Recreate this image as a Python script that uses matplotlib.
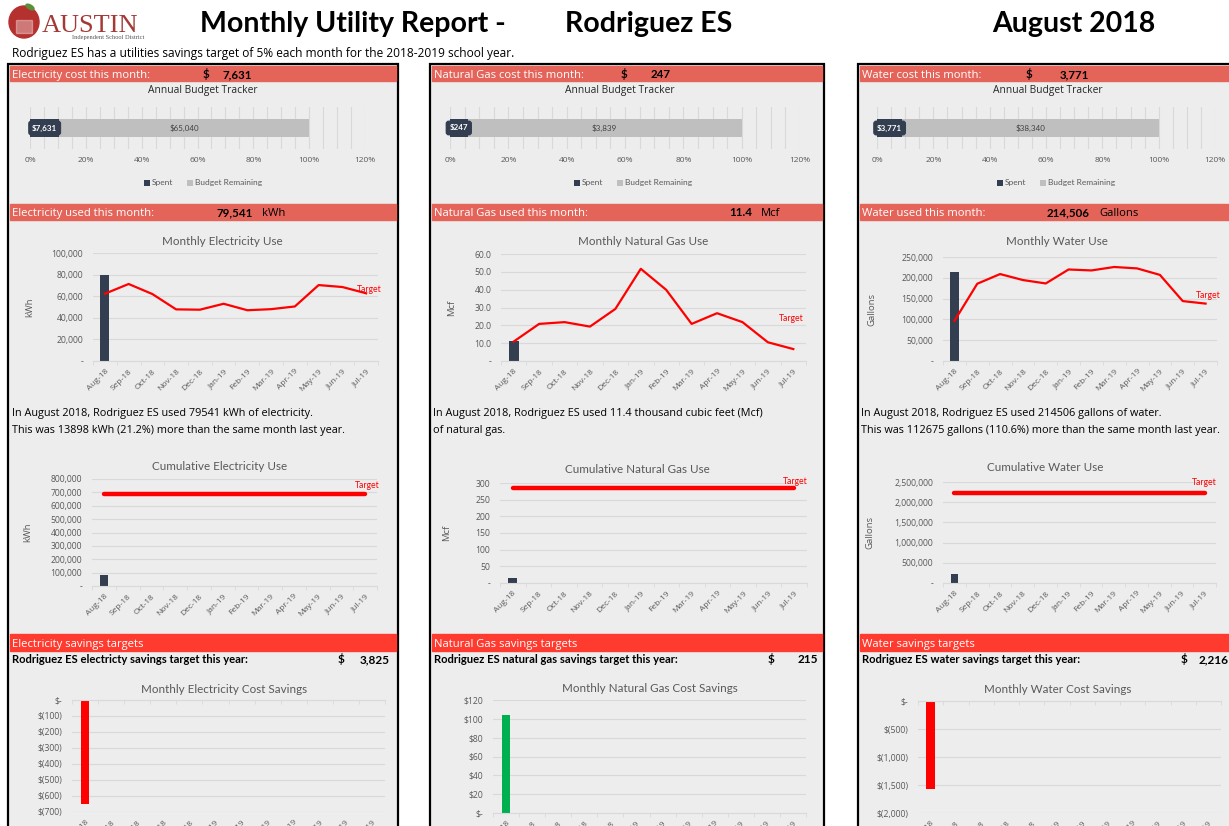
import numpy as np
import matplotlib.pyplot as plt
from matplotlib.patches import Rectangle, Ellipse
from matplotlib.ticker import FuncFormatter

plt.rcParams['font.family'] = ['Lato', 'DejaVu Sans']
BODY = ['Open Sans', 'DejaVu Sans']

W, H = 1229, 826

months = ['Aug-18', 'Sep-18', 'Oct-18', 'Nov-18', 'Dec-18', 'Jan-19',
          'Feb-19', 'Mar-19', 'Apr-19', 'May-19', 'Jun-19', 'Jul-19']

# budget tracker
elec_spent, elec_remaining = 7631, 65040
gas_spent, gas_remaining = 247, 3839
water_spent, water_remaining = 3771, 38340

# monthly use (actual so far + target line)
elec_used = [79541]
elec_target = [62300, 71300, 62000, 47800, 47500, 53000, 47000, 48000, 50500, 70300, 68500, 62700]
gas_used = [11.4]
gas_target = [10.9, 20.8, 21.8, 19.3, 29.2, 51.7, 39.9, 20.8, 26.8, 21.8, 10.5, 6.7]
water_used = [214506]
water_target = [96500, 185700, 209000, 194600, 186400, 220000, 217700, 226000, 222600, 207000, 144000, 138000]

# cumulative use
elec_cum = [79541]
elec_cum_target = [690000] * 12
gas_cum = [15]
gas_cum_target = [286] * 12
water_cum = [214506]
water_cum_target = [2240000] * 12

# monthly cost savings
elec_savings = [-650]
gas_savings = [104]
water_savings = [-1570]

DARK = '#333F50'
SALMON = '#E5645A'
BRIGHT = '#FF3B2F'
PANEL = '#EDEDED'
GRID = '#D9D9D9'
TICK = '#595959'

fig = plt.figure(figsize=(W / 100, H / 100), dpi=100)
fig.patch.set_facecolor('white')

bg = fig.add_axes([0, 0, 1, 1])
bg.set_xlim(0, W)
bg.set_ylim(H, 0)
bg.axis('off')


def add_ax(x0, y0, x1, y1):
    return fig.add_axes([x0 / W, 1 - y1 / H, (x1 - x0) / W, (y1 - y0) / H], facecolor='none')


def put(x, y, s, size, **kw):
    # y is the visual middle of the capitals, in pixels from the top
    bg.text(x, y + size * 1.389 * 0.36, s, fontsize=size, va='baseline', **kw)


# ---- header ----
bg.add_patch(Ellipse((24, 22), 30, 32, color='#B5312F'))
bg.add_patch(Ellipse((30, 7), 9, 4, angle=30, color='#5A8F3A'))
bg.add_patch(Rectangle((16, 20), 16, 13, color='white', alpha=0.35))
put(42, 22, 'AUSTIN', 19, family='Liberation Serif', color='#A33A38')
put(72, 37, 'Independent School District', 4.6, family='Liberation Serif', color='#555555')
put(200, 22, 'Monthly Utility Report -', 20.5, weight='bold')
put(565, 22, 'Rodriguez ES', 20.5, weight='bold')
put(992, 22, 'August 2018', 20.5, weight='bold')
put(12, 53, 'Rodriguez ES has a utilities savings target of 5% each month for the 2018-2019 school year.',
    8.6, family=BODY)

cols = [
    dict(x0=8, x1=398, name='Electricity', lname='electricty', cost=elec_spent, unit='kWh',
         used='79,541', usedx=253, dollar=(203, 252), save='3,825', savex=(338, 390)),
    dict(x0=430, x1=824, name='Natural Gas', lname='natural gas', cost=gas_spent, unit='Mcf',
         used='11.4', usedx=752, dollar=(621, 671), save='215', savex=(768, 818)),
    dict(x0=858, x1=1240, name='Water', lname='water', cost=water_spent, unit='Gallons',
         used='214,506', usedx=1090, dollar=(1026, 1089), save='2,216', savex=(1181, 1229)),
]

for c in cols:
    x0, x1 = c['x0'], c['x1']
    bg.add_patch(Rectangle((x0, 64), x1 - x0, H - 64 + 5, facecolor=PANEL, edgecolor='black', lw=1.6))
    bg.add_patch(Rectangle((x0 + 2, 66), x1 - x0 - 4, 15, color=SALMON))
    bg.add_patch(Rectangle((x0 + 2, 204), x1 - x0 - 4, 16, color=SALMON))
    bg.add_patch(Rectangle((x0 + 2, 634), x1 - x0 - 4, 17, color=BRIGHT))
    tx = x0 + 4
    put(tx, 74, c['name'] + ' cost this month:', 8.1, color='white', family=BODY)
    put(c['dollar'][0], 74, '$', 8.3, weight='bold')
    put(c['dollar'][1], 74, f"{c['cost']:,}", 8.3, weight='bold', ha='right')
    put(tx, 212, c['name'] + ' used this month:', 8.1, color='white', family=BODY)
    put(c['usedx'], 212, c['used'], 8.3, weight='bold', ha='right')
    put(c['usedx'] + 9, 212, c['unit'], 8.1, family=BODY)
    put(tx, 643, c['name'] + ' savings targets', 8.1, color='white', family=BODY)
    put(tx, 659, 'Rodriguez ES ' + c['lname'] + ' savings target this year:', 8.1, weight='bold')
    put(c['savex'][0], 659, '$', 8.5, weight='bold')
    put(c['savex'][1], 659, c['save'], 8.5, weight='bold', ha='right')

# ---- budget trackers ----
budgets = [(30, 365, elec_spent, elec_remaining, 203, 203),
           (450, 800, gas_spent, gas_remaining, 633, 620),
           (877, 1215, water_spent, water_remaining, 1056, 1048)]
for bx0, bx1, spent, remaining, cx, tcx in budgets:
    ax = add_ax(bx0, 107, bx1, 149)
    frac = spent / (spent + remaining)
    ax.barh([0], [frac], height=0.42, color=DARK, label='Spent')
    ax.barh([0], [1 - frac], left=[frac], height=0.42, color='#BFBFBF', label='Budget Remaining')
    ax.set_xlim(0, 1.2)
    ax.set_ylim(-0.5, 0.5)
    ax.set_xticks(np.arange(0, 1.21, 0.2))
    ax.set_xticks(np.arange(0, 1.21, 0.05), minor=True)
    ax.xaxis.set_major_formatter(FuncFormatter(lambda v, p: f'{v:.0%}'))
    ax.grid(which='both', axis='x', color=GRID, lw=0.8)
    ax.set_axisbelow(True)
    ax.set_yticks([])
    ax.tick_params(axis='x', which='both', length=0, labelsize=6, labelcolor=TICK, pad=6)
    for lab in ax.get_xticklabels():
        lab.set_family(BODY)
    for s in ax.spines.values():
        s.set_visible(False)
    ax.text(frac / 2, 0, f'${spent:,}', color='white', fontsize=5.8, weight='bold', ha='center', va='center',
            bbox=dict(boxstyle='round,pad=0.4,rounding_size=0.3', fc=DARK, ec=DARK))
    ax.text(frac + (1 - frac) / 2, 0, f'${remaining:,}', color='#404040', fontsize=5.8, ha='center',
            va='center')
    ax.legend(loc='center', bbox_to_anchor=(cx / W, 1 - 183 / H), bbox_transform=fig.transFigure,
              ncol=2, frameon=False, fontsize=6, handlelength=0.7, handleheight=0.7,
              columnspacing=1.6, handletextpad=0.3, labelcolor=TICK)
    put(tcx, 89, 'Annual Budget Tracker', 7.4, family=BODY, ha='center', color='#262626')


def style_cat(ax, ymin, ymax, step, fmt, top_axis=False):
    ax.set_xlim(-0.5, 11.5)
    ax.set_ylim(ymin, ymax)
    ax.set_yticks(np.arange(ymin, ymax + step / 2, step))
    ax.yaxis.set_major_formatter(FuncFormatter(fmt))
    ax.grid(axis='y', color=GRID, lw=0.8)
    ax.set_axisbelow(True)
    for s in ['top', 'right', 'left', 'bottom']:
        ax.spines[s].set_visible(False)
    ax.spines['top' if top_axis else 'bottom'].set_visible(True)
    ax.spines['top' if top_axis else 'bottom'].set_color(GRID)
    ax.set_xticks(range(12))
    ax.set_xticklabels(months, rotation=45, ha='right', rotation_mode='anchor', fontsize=6, color=TICK,
                       family=BODY)
    ax.set_xticks(np.arange(-0.5, 12, 1), minor=True)
    ax.tick_params(axis='x', which='major', length=0, pad=5)
    if top_axis:
        ax.tick_params(axis='x', which='minor', top=True, bottom=False, length=3, color=GRID, direction='in')
    else:
        ax.tick_params(axis='x', which='minor', length=3, color=GRID)
    ax.tick_params(axis='y', length=0, labelsize=6.2, labelcolor=TICK, pad=7)
    for lab in ax.get_yticklabels():
        lab.set_family(BODY)


def comma(v, p):
    return '-' if v == 0 else f'{v:,.0f}'


def one_dec(v, p):
    return '-' if v == 0 else f'{v:.1f}'


def dollars(v, p):
    if v == 0:
        return '$-'
    return f'$({-v:,.0f})' if v < 0 else f'${v:,.0f}'


def target_label(ax, y, dx, dy):
    ax.annotate('Target', (11, y), xytext=(dx, dy), textcoords='offset pixels', color='red',
                fontsize=6.2, ha='center', va='center')


# ---- monthly use ----
monthly = [
    ((93, 378, 253, 361), elec_used, elec_target, 100000, 20000, comma, 'kWh', 'Monthly Electricity Use',
     222, 30, (3, 4)),
    ((501, 806, 254, 361), gas_used, gas_target, 60, 10, one_dec, 'Mcf', 'Monthly Natural Gas Use',
     643, 452, (-2, 31)),
    ((943, 1217, 257, 361), water_used, water_target, 250000, 50000, comma, 'Gallons', 'Monthly Water Use',
     1057, 872, (3, 8)),
]
for (x0, x1, y0, y1), used, target, ymax, step, fmt, ylab, title, tcx, ylx, off in monthly:
    ax = add_ax(x0, y0, x1, y1)
    ax.bar(range(len(used)), used, width=0.38, color=DARK, zorder=2)
    ax.plot(range(12), target, color='red', lw=1.6, zorder=3)
    style_cat(ax, 0, ymax, step, fmt)
    target_label(ax, target[-1], *off)
    put(tcx, 241, title, 8.4, ha='center', color=TICK)
    bg.text(ylx, (y0 + y1) / 2, ylab, fontsize=6.8, family=BODY, rotation=90, ha='center', va='center',
            color=TICK)

notes = [
    (12, ['In August 2018, Rodriguez ES used 79541 kWh of electricity.',
          'This was 13898 kWh (21.2%) more than the same month last year.']),
    (433, ['In August 2018, Rodriguez ES used 11.4 thousand cubic feet (Mcf)',
           'of natural gas.']),
    (861, ['In August 2018, Rodriguez ES used 214506 gallons of water.',
           'This was 112675 gallons (110.6%) more than the same month last year.']),
]
for nx, lines in notes:
    for i, line in enumerate(lines):
        put(nx, 412 + 17 * i, line, 7.8, family=BODY)

# ---- cumulative use ----
cumulative = [
    ((92, 377, 479, 586), elec_cum, elec_cum_target, 800000, 100000, comma, 'kWh', 'Cumulative Electricity Use',
     220, 466, 28, (2, 8)),
    ((500, 807, 483, 583), gas_cum, gas_cum_target, 300, 50, comma, 'Mcf', 'Cumulative Natural Gas Use',
     637, 469, 447, (1, 6)),
    ((943, 1216, 482, 583), water_cum, water_cum_target, 2500000, 500000, comma, 'Gallons',
     'Cumulative Water Use', 1045, 467, 870, (0, 10)),
]
for (x0, x1, y0, y1), used, target, ymax, step, fmt, ylab, title, tcx, tcy, ylx, off in cumulative:
    ax = add_ax(x0, y0, x1, y1)
    ax.bar(range(len(used)), used, width=0.34, color=DARK, zorder=2)
    ax.plot(range(12), target, color='red', lw=3.2, solid_capstyle='round', zorder=3)
    style_cat(ax, 0, ymax, step, fmt)
    target_label(ax, target[-1], *off)
    put(tcx, tcy, title, 8.4, ha='center', color=TICK)
    bg.text(ylx, (y0 + y1) / 2, ylab, fontsize=6.8, family=BODY, rotation=90, ha='center', va='center',
            color=TICK)

# ---- monthly cost savings ----
savings = [
    ((72, 385, 700, 812), elec_savings, -700, 0, 100, 'red', 'Monthly Electricity Cost Savings', 224, 689),
    ((493, 806, 700, 813), gas_savings, 0, 120, 20, '#00B050', 'Monthly Natural Gas Cost Savings', 650, 688),
    ((918, 1221, 701, 813), water_savings, -2000, 0, 500, 'red', 'Monthly Water Cost Savings', 1058, 689),
]
for (x0, x1, y0, y1), vals, ymin, ymax, step, color, title, tcx, tcy in savings:
    ax = add_ax(x0, y0, x1, y1)
    ax.bar(range(len(vals)), vals, width=0.34, color=color, zorder=2)
    style_cat(ax, ymin, ymax, step, dollars, top_axis=(ymax == 0))
    put(tcx, tcy, title, 8.4, ha='center', color=TICK)

fig.savefig('out.png', dpi=100)
